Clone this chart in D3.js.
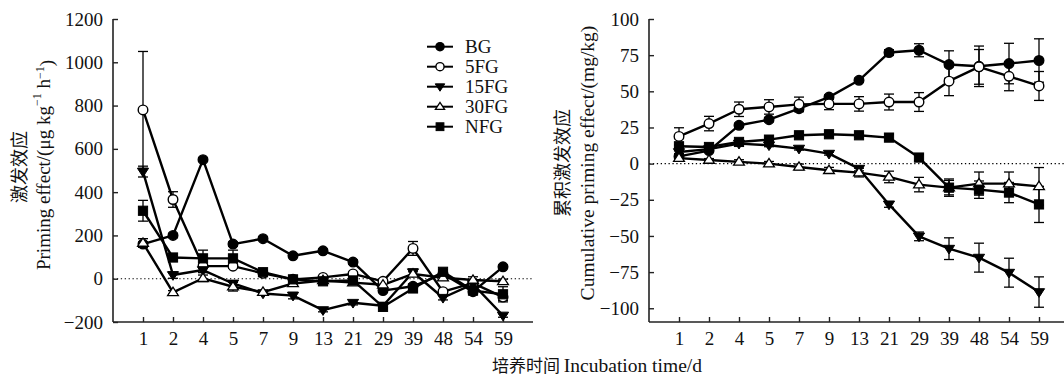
<!DOCTYPE html>
<html><head><meta charset="utf-8">
<script src="https://cdn.jsdelivr.net/npm/d3@7"></script>
<style>
html,body{margin:0;padding:0;background:#fff;}
svg text{font-family:"Liberation Serif","Times New Roman",serif;fill:#111;}
.cjk{font-family:"Noto Sans CJK SC",sans-serif;}
</style></head>
<body><svg id="c" width="1064" height="376"></svg>
<script>
const days = ["1","2","4","5","7","9","13","21","29","39","48","54","59"];
const seriesNames = ["BG","5FG","15FG","30FG","NFG"];

// Left panel: priming effect (µg kg-1 h-1)
const peBG   = [160, 200, 550, 160, 185, 106, 129, 77, -55, -35, 22, -60, 55];
const pe5FG  = [780, 366, 58, 58, 25, -3, 6, 22, -12, 140, -60, -20, -85];
const pe15FG = [495, 17, 40, -22, -68, -78, -145, -111, -125, 30, -88, -25, -170];
const pe30FG = [165, -63, 2, -37, -62, -22, -8, -18, -28, 22, 5, -6, -12];
const peNFG  = [314, 98, 94, 94, 30, -3, -12, -8, -130, -45, 32, -55, -72];
const peErrBG   = [10, 10, 8, 10, 8, 8, 8, 10, 8, 10, 10, 8, 8];
const peErr5FG  = [270, 36, 10, 10, 8, 8, 8, 8, 8, 32, 10, 15, 15];
const peErr15FG = [25, 15, 12, 10, 8, 15, 8, 10, 8, 15, 10, 10, 8];
const peErr30FG = [20, 8, 15, 20, 10, 8, 8, 8, 10, 10, 10, 15, 10];
const peErrNFG  = [48, 8, 38, 38, 8, 8, 8, 8, 10, 12, 10, 10, 35];

// Right panel: cumulative priming effect (mg/kg)
const cpBG   = [5, 9, 26.5, 30.4, 38, 46, 57.6, 76.8, 78.4, 68.5, 67.3, 69.2, 71.3];
const cp5FG  = [18.8, 27.7, 37.6, 39.2, 41, 41.3, 41.3, 42.6, 42.6, 57, 66.9, 60.4, 53.7];
const cp15FG = [8, 10, 13.8, 12.7, 10.4, 6.9, -3.5, -28.2, -50.3, -58.8, -65, -75.4, -88.8];
const cp30FG = [3.8, 2.5, 1.2, 0, -2.3, -4.6, -6.2, -9.2, -14.5, -16.6, -13.8, -13.8, -15.7];
const cpNFG  = [12, 11.5, 15, 16.6, 19.6, 20.3, 19.6, 18, 4.2, -16.6, -18, -20, -28.2];
const cpErrBG   = [1, 1, 1.5, 1.5, 2, 1.5, 1.5, 2, 4.5, 9.5, 14, 14, 15];
const cpErr5FG  = [6, 5, 5, 5, 5, 4, 5, 5.5, 6.5, 10, 12, 10, 10];
const cpErr15FG = [1, 1, 1, 1, 1, 1, 1.5, 2, 3, 7.5, 10, 10, 10.5];
const cpErr30FG = [1, 1, 1.5, 1.5, 2, 2, 3, 4, 5, 6, 8, 8, 13];
const cpErrNFG  = [1, 1, 1, 1, 1.5, 1.5, 1.5, 2, 2, 5, 6, 7, 12.5];

const leftTicks = [-200, 0, 200, 400, 600, 800, 1000, 1200];
const rightTicks = [-100, -75, -50, -25, 0, 25, 50, 75, 100];

const markers = {
  "BG":   {shape:"circle", fill:"#000"},
  "5FG":  {shape:"circle", fill:"#fff"},
  "15FG": {shape:"tridown", fill:"#000"},
  "30FG": {shape:"triup", fill:"#fff"},
  "NFG":  {shape:"square", fill:"#000"}
};

const svg = d3.select("#c");
const fmt = v => (v < 0 ? "\u2212" + Math.abs(v) : String(v));

function drawMarker(g, name, x, y, s) {
  const m = markers[name];
  s = s || 1;
  if (m.shape === "circle") {
    g.append("circle").attr("cx", x).attr("cy", y).attr("r", 4.8*s)
      .attr("fill", m.fill).attr("stroke", "#000").attr("stroke-width", 1.4);
  } else if (m.shape === "square") {
    g.append("rect").attr("x", x-4.6*s).attr("y", y-4.6*s).attr("width", 9.2*s).attr("height", 9.2*s)
      .attr("fill", m.fill).attr("stroke", "#000").attr("stroke-width", 1);
  } else if (m.shape === "tridown") {
    const r = 5.6*s;
    g.append("path").attr("d", `M${x-r},${y-r*0.6}L${x+r},${y-r*0.6}L${x},${y+r*0.95}Z`)
      .attr("fill", m.fill).attr("stroke", "#000").attr("stroke-width", 1);
  } else {
    const r = 5.4*s;
    g.append("path").attr("d", `M${x-r},${y+r*0.6}L${x+r},${y+r*0.6}L${x},${y-r*0.95}Z`)
      .attr("fill", m.fill).attr("stroke", "#000").attr("stroke-width", 1.3);
  }
}

function panel(x0, yDomain, ticks, series, errs, zeroEnd) {
  const top = 19, bottom = 322;
  const x = d3.scalePoint().domain(days).range([x0 + 30, x0 + 390]);
  const y = d3.scaleLinear().domain(yDomain).range([bottom, top]);
  const yTop = y(ticks[ticks.length-1]);
  const g = svg.append("g");

  g.append("line").attr("x1", x0).attr("x2", zeroEnd).attr("y1", y(0)).attr("y2", y(0))
    .attr("stroke", "#000").attr("stroke-width", 1.1).attr("stroke-dasharray", "1.3,2.6");

  const ya = d3.axisLeft(y).tickValues(ticks).tickSize(-5).tickPadding(10).tickFormat(fmt);
  const yg = g.append("g").attr("transform", `translate(${x0},0)`).call(ya);
  yg.select(".domain").remove();
  yg.append("line").attr("x1", 0).attr("x2", 0).attr("y1", yTop).attr("y2", bottom)
    .attr("stroke", "#222").attr("stroke-width", 1.6);
  yg.selectAll(".tick line").attr("stroke", "#222").attr("stroke-width", 1.4);
  yg.selectAll("text").attr("font-size", 19).attr("fill", "#111")
    .style("font-family", '"Liberation Serif",serif');

  const xa = d3.axisBottom(x).tickSize(-5).tickPadding(10);
  const xg = g.append("g").attr("transform", `translate(0,${bottom})`).call(xa);
  xg.select(".domain").remove();
  xg.append("line").attr("x1", x0).attr("x2", x0 + 420).attr("y1", 0).attr("y2", 0)
    .attr("stroke", "#222").attr("stroke-width", 1.6);
  xg.selectAll(".tick line").attr("stroke", "#222").attr("stroke-width", 1.4);
  xg.selectAll("text").attr("font-size", 19).attr("fill", "#111")
    .style("font-family", '"Liberation Serif",serif');

  seriesNames.forEach((name, si) => {
    const vals = series[si], e = errs[si];
    days.forEach((d, i) => {
      const cx = x(d), y1 = y(vals[i] + e[i]), y2 = y(vals[i] - e[i]);
      g.append("line").attr("x1", cx).attr("x2", cx).attr("y1", y1).attr("y2", y2)
        .attr("stroke", "#000").attr("stroke-width", 1.3);
      [y1, y2].forEach(yy => g.append("line").attr("x1", cx-5).attr("x2", cx+5)
        .attr("y1", yy).attr("y2", yy).attr("stroke", "#000").attr("stroke-width", 1.3));
    });
  });
  const line = d3.line().x((v, i) => x(days[i])).y(v => y(v));
  seriesNames.forEach((name, si) => {
    g.append("path").attr("d", line(series[si])).attr("fill", "none")
      .attr("stroke", "#000").attr("stroke-width", 2.4).attr("stroke-linejoin", "round");
  });
  seriesNames.forEach((name, si) => {
    series[si].forEach((v, i) => drawMarker(g, name, x(days[i]), y(v)));
  });
}

panel(113, [-200, 1200], leftTicks,
  [peBG, pe5FG, pe15FG, pe30FG, peNFG],
  [peErrBG, peErr5FG, peErr15FG, peErr30FG, peErrNFG], 532);
panel(649, [-109.5, 100], rightTicks,
  [cpBG, cp5FG, cp15FG, cp30FG, cpNFG],
  [cpErrBG, cpErr5FG, cpErr15FG, cpErr30FG, cpErrNFG], 1064);

const lg = svg.append("g");
seriesNames.forEach((name, i) => {
  const yy = 46.7 + i * 20;
  lg.append("line").attr("x1", 427).attr("x2", 453).attr("y1", yy).attr("y2", yy)
    .attr("stroke", "#000").attr("stroke-width", 2);
  drawMarker(lg, name, 440, yy, 0.85);
  lg.append("text").attr("x", 465).attr("y", yy).attr("dy", "0.35em")
    .attr("font-size", 19).text(name);
});

function yTitle(xc, yc, cls, build) {
  const t = svg.append("text").attr("transform", `translate(${xc},${yc}) rotate(-90)`)
    .attr("text-anchor", "middle").attr("dy", "0.35em").attr("font-size", 19);
  if (cls) t.attr("class", cls);
  build(t);
}
yTitle(20, 167, "cjk", t => t.attr("font-size", 18).text("激发效应"));
yTitle(43, 165, null, t => {
  t.append("tspan").text("Priming effect/(μg kg");
  t.append("tspan").attr("font-size", 12).attr("dy", "-0.7em").text("\u22121");
  t.append("tspan").attr("dy", "0.45em").text(" h");
  t.append("tspan").attr("font-size", 12).attr("dy", "-0.45em").text("\u22121");
  t.append("tspan").attr("dy", "0.45em").text(")");
});
yTitle(563, 163, "cjk", t => t.attr("font-size", 18).text("累积激发效应"));
yTitle(587, 163, null, t => t.attr("font-size", 19.5).text("Cumulative priming effect/(mg/kg)"));

const xt = svg.append("text").attr("x", 597).attr("y", 372).attr("text-anchor", "middle").attr("font-size", 19.5);
xt.append("tspan").attr("class", "cjk").attr("font-size", 17).text("培养时间 ");
xt.append("tspan").text("Incubation time/d");
</script>
</body></html>
